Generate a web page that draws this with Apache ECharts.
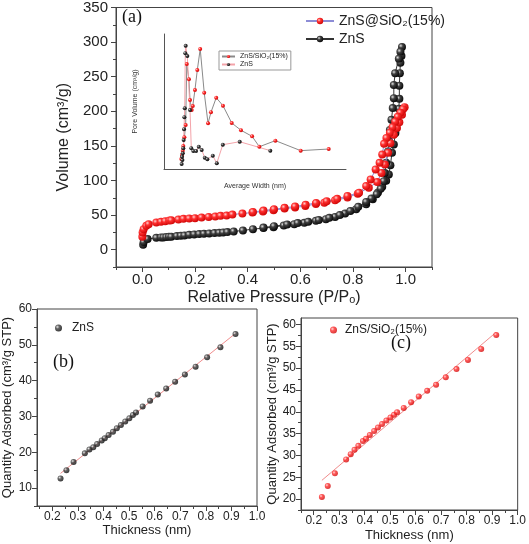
<!DOCTYPE html>
<html><head><meta charset="utf-8">
<script src="https://cdn.jsdelivr.net/npm/echarts@6/dist/echarts.min.js"></script>
<style>html,body{margin:0;padding:0;background:#fff}#c{width:529px;height:544px}</style>
</head><body><div id="c"></div>
<script>
// ---------- Panel (a): N2 isotherms (adsorption then desorption) ----------
const aRedP = [0,0.001,0.005,0.015,0.024,0.053,0.071,0.087,0.103,0.110,0.137,0.156,0.178,0.200,0.225,0.252,0.277,0.297,0.320,0.342,0.380,0.418,0.458,0.498,
  0.540,0.580,0.619,0.659,0.691,0.732,0.779,0.818,0.860,0.892,0.908,0.921,0.933,0.942,0.955,0.967,0.976,0.986,0.996,
  0.990,0.980,0.970,0.960,0.950,0.940,0.927,0.918,0.911,0.901,0.886,0.867,0.850,0.823,0.779,0.740,0.700,0.660,0.620,0.580,0.540,0.500,0.460,0.420];
const aRedV = [18.7,25,29.7,34.5,36.9,39.4,40.3,41.2,42.2,42.5,43.7,44.6,45.1,45.6,46.5,47.4,48,48.9,49.4,50.8,52.3,53.7,55.1,57,
  59.5,60.9,63.2,66,68,71.4,75.3,81,89.6,97.7,111,123,140,154,166,176,184,195,206,
  203,198,192,185,177,169,161.5,153,137.5,125.6,116,101.6,92,82.4,77.6,73.5,70,67.5,65,62.5,60.5,58.5,56.5,54.5];
const aBlackP = [0.003,0.005,0.020,0.053,0.071,0.080,0.091,0.101,0.110,0.131,0.146,0.160,0.178,0.197,0.216,0.234,0.254,0.274,0.292,0.307,0.323,0.347,0.382,0.420,0.460,0.498,
  0.537,0.577,0.615,0.659,0.697,0.732,0.770,0.812,0.850,0.875,0.895,0.911,0.926,0.936,0.942,0.948,0.955,0.961,0.967,0.974,0.976,0.976,0.978,0.980,0.984,0.986,
  0.980,0.974,0.960,0.955,0.955,0.951,0.946,0.940,0.936,0.933,0.926,0.921,0.917,0.905,0.890,0.870,0.850,0.820,0.790,0.750,0.710,0.670,0.630,0.590,0.550,0.500,0.460];
const aBlackV = [7.2,11,15.4,17.2,17.8,17.8,18.2,18.7,18.7,19.7,20.1,20.6,21.6,22.1,22.6,23,23.5,24,24.4,24.9,25.4,26.4,27.8,29.7,31.2,32.6,
  35,36.9,38.8,41.7,44.1,47.4,52.3,58.5,65.7,72.8,82.5,91,99.5,108.8,122,140,152,168.7,185,203.6,218,237,255,270,280,293,
  286,276,255,238,219,204.6,187.8,173,159,142,125.6,111,99,88,80,74,69,62,56,50,46,43,40.5,38.5,36.5,34,32];
const aXLabels = [0,0.2,0.4,0.6,0.8,1.0];
const aXMinor = [-0.1,0.1,0.3,0.5,0.7,0.9,1.1];
const aYLabels = [0,50,100,150,200,250,300,350];
const aYMinor = [-25,25,75,125,175,225,275,325];

// ---------- Inset: pore size distribution ----------
const inRedW = [0.95,0.99,1.03,1.06,1.12,1.19,1.25,1.37,1.43,1.52,1.58,1.70,1.83,1.99,2.21,2.42,2.58,2.87,3.24,3.72,4.23,4.84,5.24,6.12,7.51,9.05];
const inRedV = [0.0074,0.0104,0.0136,0.017,0.0235,0.0326,0.0778,0.0664,0.0511,0.0437,0.0467,0.0585,0.0733,0.0889,0.0565,0.0339,0.042,0.0528,0.0469,0.0341,0.0287,0.0242,0.0165,0.021,0.0136,0.0148];
const inBlackW = [0.97,1.01,0.99,1.03,1.06,1.08,1.10,1.12,1.14,1.17,1.19,1.28,1.43,1.50,1.61,1.76,1.91,2.07,2.24,2.38,2.68,2.90,3.23,4.16,5.84];
const inBlackV = [0.0037,0.0067,0.0091,0.0116,0.0153,0.0215,0.0294,0.0383,0.045,0.0857,0.0913,0.0837,0.0437,0.0153,0.0133,0.0133,0.0165,0.0141,0.0084,0.0072,0.0099,0.0042,0.018,0.0202,0.0136];

// ---------- Panels (b), (c): t-plots ----------
const tThickness = [0.232,0.255,0.283,0.327,0.345,0.360,0.375,0.393,0.405,0.420,0.437,0.452,0.468,0.485,0.501,0.515,0.527,0.553,0.582,0.612,0.645,0.680,0.718,0.760,0.805,0.857,0.916];
const bQty = [12.7,15,17.3,19.7,20.8,21.4,22.3,23.3,23.9,24.8,25.7,26.7,27.6,28.6,29.5,30.4,31.1,32.8,34.4,36.1,37.8,39.7,41.7,43.9,46.5,49.3,53];
const cQty = [20.5,23,25.9,29.1,30.3,31.3,32.2,33.3,33.8,34.7,35.6,36.4,37.2,38,38.7,39.3,39.9,40.9,42.2,43.5,44.8,46.2,47.9,49.8,51.9,54.4,57.6];
const bFitT = [0.232,0.918]; const bFitQ = [14.1,53.3];
const cFitT = [0.232,0.915]; const cFitQ = [24.3,58.2];
const tXLabels = [0.2,0.3,0.4,0.5,0.6,0.7,0.8,0.9,1.0];
const tXMinor = [0.15,0.25,0.35,0.45,0.55,0.65,0.75,0.85,0.95];
const bYLabels = [10,20,30,40,50,60];
const bYMinor = [5,15,25,35,45,55];
const cYLabels = [20,25,30,35,40,45,50,55,60];
const cYMinor = [17.5,22.5,27.5,32.5,37.5,42.5,47.5,52.5,57.5];

const zip = (a,b) => a.map((v,i)=>[v,b[i]]);
const FONT = 'Liberation Sans, Arial, sans-serif';
const sphere = (light, mid, dark) => ({type:'radial',x:0.35,y:0.35,r:0.75,colorStops:[{offset:0,color:light},{offset:0.35,color:mid},{offset:1,color:dark}]});
const RED = sphere('#ffd0d0','#ff3030','#c80000');
const BLK = sphere('#e0e0e0','#404040','#000000');
const AX = '#444';

function mainAxis(grid, min, max, labels, fmt, fs, margin, name, gap, extra) {
  return Object.assign({
    type:'value', gridIndex:grid, min:min, max:max, splitLine:{show:false},
    axisLine:{show:true,onZero:false,lineStyle:{color:AX,width:1}},
    axisTick:{show:true,inside:false,length:5,customValues:labels,lineStyle:{color:AX}},
    axisLabel:{show:true,customValues:labels,formatter:fmt,fontFamily:FONT,fontSize:fs,color:'#222',margin:margin},
    name:name, nameLocation:'middle', nameGap:gap,
    nameTextStyle:{fontFamily:FONT,fontSize:fs+1,color:'#222'}
  }, extra||{});
}
function minorAxis(grid, min, max, ticks, pos) {
  return {type:'value', gridIndex:grid, min:min, max:max, position:pos, offset:0, splitLine:{show:false},
    axisLine:{show:false,onZero:false},
    axisTick:{show:true,inside:false,length:3,customValues:ticks,lineStyle:{color:AX}},
    axisLabel:{show:false,customValues:ticks}};
}
const f1 = v => v.toFixed(1);
const f0 = v => String(v);

const option = {
  animation:false,
  backgroundColor:'#fff',
  grid:[
    {left:116, top:6, width:316, height:261, show:true, borderColor:AX, borderWidth:1},
    {left:164, top:34, width:182, height:135},
    {left:37, top:309, width:220, height:197, show:true, borderColor:AX, borderWidth:1},
    {left:301, top:318, width:219, height:192, show:true, borderColor:AX, borderWidth:1}
  ],
  xAxis:[
    mainAxis(0,-0.1,1.1,aXLabels,f1,15,5,'Relative Pressure (P/Pₒ)',23,{position:'bottom'}),
    minorAxis(0,-0.1,1.1,aXMinor,'bottom'),
    {type:'value',gridIndex:1,min:0,max:10,position:'bottom',splitLine:{show:false},
      axisLine:{show:true,onZero:false,lineStyle:{color:'#555',width:1}},axisTick:{show:false},axisLabel:{show:false},
      name:'Average Width (nm)',nameLocation:'middle',nameGap:14,nameTextStyle:{fontFamily:FONT,fontSize:7,color:'#333'}},
    mainAxis(2,0.14,1.0,tXLabels,f1,12,5,'Thickness (nm)',16,{position:'bottom'}),
    minorAxis(2,0.14,1.0,tXMinor,'bottom'),
    mainAxis(3,0.15,1.0,tXLabels,f1,12,5,'Thickness (nm)',19,{position:'bottom'}),
    minorAxis(3,0.15,1.0,tXMinor,'bottom')
  ],
  yAxis:[
    mainAxis(0,-25,350,aYLabels,f0,15,8,'Volume (cm³/g)',34,{position:'left'}),
    minorAxis(0,-25,350,aYMinor,'left'),
    {type:'value',gridIndex:1,min:0,max:0.1,position:'left',splitLine:{show:false},
      axisLine:{show:true,onZero:false,lineStyle:{color:'#555',width:1}},axisTick:{show:false},axisLabel:{show:false},
      name:'Pore Volume (cm³/g)',nameLocation:'middle',nameGap:25,nameTextStyle:{fontFamily:FONT,fontSize:7,color:'#333'}},
    mainAxis(2,5,60,bYLabels,f0,12,5,'Quantity Adsorbed (cm³/g STP)',23,{position:'left'}),
    minorAxis(2,5,60,bYMinor,'left'),
    mainAxis(3,17.5,61.5,cYLabels,f0,12,5,'Quantity Adsorbed (cm³/g STP)',19,{position:'left'}),
    minorAxis(3,17.5,61.5,cYMinor,'left')
  ],
  legend:[
    {data:['ZnS@SiO₂(15%)','ZnS_a'], left:300, top:9, orient:'vertical', itemGap:4, itemWidth:28, itemHeight:8,
      formatter:n=>n.replace(/_.*$/,''), textStyle:{fontFamily:FONT,fontSize:14,color:'#222'}, selectedMode:false},
    {data:['ZnS/SiO₂(15%)_in','ZnS_in'], left:219, top:51, orient:'vertical', itemGap:1, itemWidth:13, itemHeight:4,
      padding:[2,3,2,2], borderColor:'#999', borderWidth:1,
      formatter:n=>n.replace(/_.*$/,''), textStyle:{fontFamily:FONT,fontSize:7,color:'#222'}, selectedMode:false},
    {data:['ZnS_b'], left:50, top:317, itemWidth:7, itemHeight:7,
      formatter:n=>n.replace(/_.*$/,''), textStyle:{fontFamily:FONT,fontSize:12,color:'#222',padding:[0,0,0,5]}, selectedMode:false},
    {data:['ZnS/SiO₂(15%)_c'], left:325, top:319, itemWidth:7, itemHeight:7,
      formatter:n=>n.replace(/_.*$/,''), textStyle:{fontFamily:FONT,fontSize:12,color:'#222',padding:[0,0,0,3]}, selectedMode:false}
  ],
  graphic:[
    {type:'text',left:122,top:8,style:{text:'(a)',font:'18px "Liberation Serif", serif',fill:'#111'}},
    {type:'text',left:53,top:353,style:{text:'(b)',font:'18px "Liberation Serif", serif',fill:'#111'}},
    {type:'text',left:391,top:334,style:{text:'(c)',font:'18px "Liberation Serif", serif',fill:'#111'}}
  ],
  series:[
    {name:'ZnS_a',type:'line',xAxisIndex:0,yAxisIndex:0,data:zip(aBlackP,aBlackV),symbol:'circle',symbolSize:8,
      itemStyle:{color:BLK},lineStyle:{color:'#333',width:1},z:2},
    {name:'ZnS@SiO₂(15%)',type:'line',xAxisIndex:0,yAxisIndex:0,data:zip(aRedP,aRedV),symbol:'circle',symbolSize:8,
      itemStyle:{color:RED},lineStyle:{color:'#8c8cd6',width:1},z:3},
    {name:'ZnS/SiO₂(15%)_in',type:'line',xAxisIndex:2,yAxisIndex:2,data:zip(inRedW,inRedV),symbol:'circle',symbolSize:4,
      itemStyle:{color:RED},lineStyle:{color:'#8a8a8a',width:1},z:4},
    {name:'ZnS_in',type:'line',xAxisIndex:2,yAxisIndex:2,data:zip(inBlackW,inBlackV),symbol:'circle',symbolSize:4,
      itemStyle:{color:BLK},lineStyle:{color:'#f4a4aa',width:1},z:4},
    {type:'line',xAxisIndex:3,yAxisIndex:3,data:zip(bFitT,bFitQ),symbol:'none',lineStyle:{color:'#f08c8c',width:1},z:2},
    {name:'ZnS_b',type:'scatter',xAxisIndex:3,yAxisIndex:3,data:zip(tThickness,bQty),symbol:'circle',symbolSize:6,
      itemStyle:{color:BLK},z:3},
    {type:'line',xAxisIndex:5,yAxisIndex:5,data:zip(cFitT,cFitQ),symbol:'none',lineStyle:{color:'#f08c8c',width:1},z:2},
    {name:'ZnS/SiO₂(15%)_c',type:'scatter',xAxisIndex:5,yAxisIndex:5,data:zip(tThickness,cQty),symbol:'circle',symbolSize:6,
      itemStyle:{color:RED},z:3}
  ]
};
const chart = echarts.init(document.getElementById('c'), null, {renderer:'canvas'});
chart.setOption(option);
</script></body></html>
